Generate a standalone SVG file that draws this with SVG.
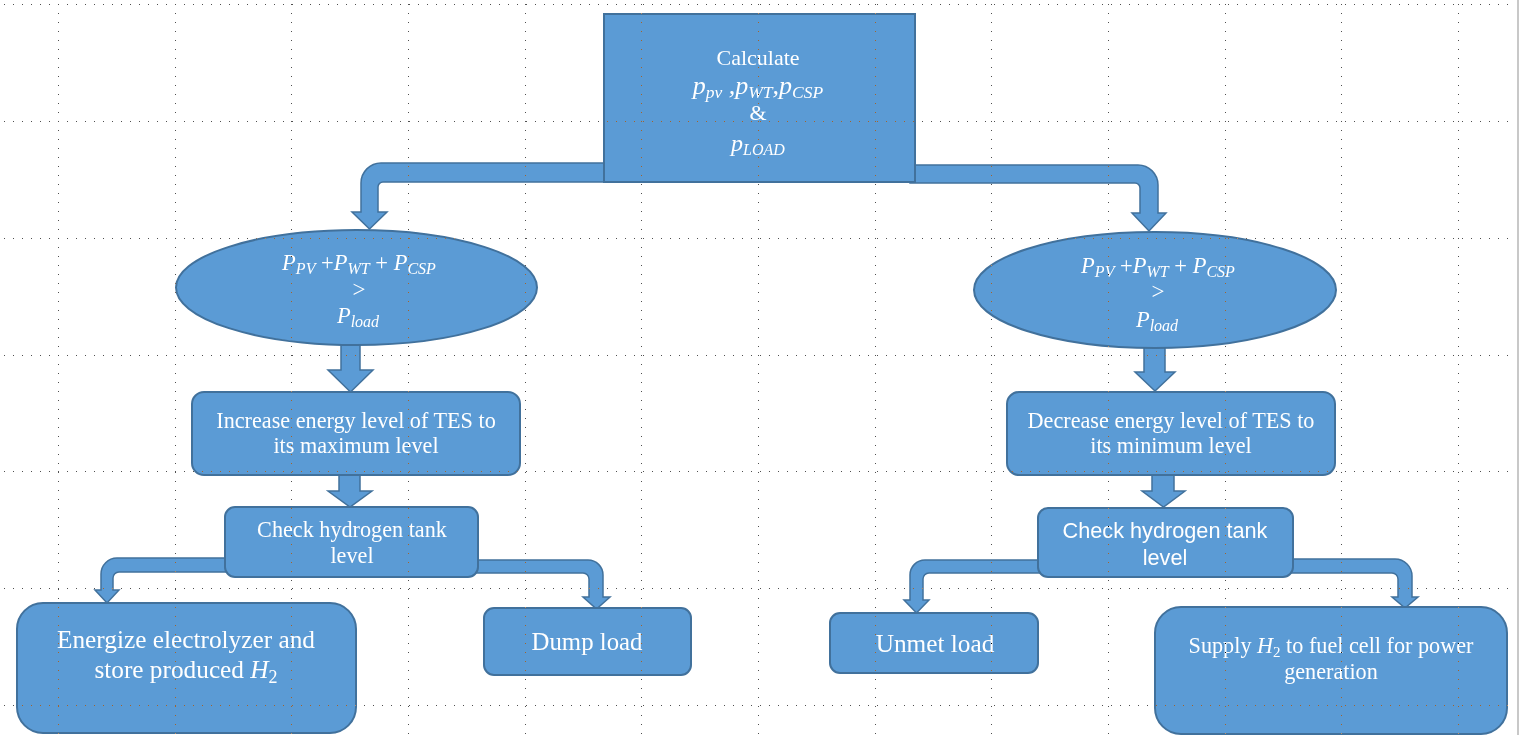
<svg xmlns="http://www.w3.org/2000/svg" xmlns:xlink="http://www.w3.org/1999/xlink" width="1525" height="735" viewBox="0 0 1525 735">
<style>
.shape{fill:#5B9BD5;stroke:#41719C;stroke-width:2}
.arrow{fill:#5B9BD5;stroke:#41719C;stroke-width:1.5;stroke-linejoin:miter}
.t{fill:#fff;font-family:"Liberation Serif","Times New Roman",serif;text-anchor:middle}
.ts{fill:#fff;font-family:"Liberation Sans",Arial,sans-serif;text-anchor:middle}
.m{fill:#fff;font-family:"Liberation Serif","Times New Roman",serif;font-style:italic;text-anchor:middle}
.up{font-style:normal}
.gridlo{stroke:#b0b0b0;stroke-width:1;stroke-dasharray:1 8;fill:none}
.gridhi{stroke:#fff;stroke-width:1;stroke-dasharray:1 8;fill:none;mix-blend-mode:difference}
</style>
<defs>
<path id="gridpath" d="M4,4.5H1516M4,121.5H1516M4,238.5H1516M4,355.5H1516M4,471.5H1516M4,588.5H1516M4,705.5H1516M58.5,4V735M175.5,4V735M291.5,4V735M408.5,4V735M525.5,4V735M641.5,4V735M758.5,4V735M875.5,4V735M991.5,4V735M1108.5,4V735M1225.5,4V735M1341.5,4V735M1458.5,4V735"/>
</defs>
<rect x="0" y="0" width="1525" height="735" fill="#fff"/>
<g id="grid-under"><use xlink:href="#gridpath" class="gridlo"/></g>
<line x1="1518" y1="0" x2="1518" y2="735" stroke="#c8c8c8" stroke-width="2"/>

<g id="connectors">
<path class="arrow" d="M610,163H381A20,20 0 0 0 361,183V212H352L369.5,229L387,212H378V187A5,5 0 0 1 383,182H610Z"/>
<path class="arrow" d="M910,165H1138A20,20 0 0 1 1158,185V213H1166L1149,231L1132,213H1140V188A5,5 0 0 0 1135,183H910Z"/>
<path class="arrow" d="M341,338V370H328L350.5,392L373,370H360V338Z"/>
<path class="arrow" d="M339,470V491H328L350,507L372,491H360V470Z"/>
<path class="arrow" d="M1144,340V372H1135L1155,391L1175,372H1165V340Z"/>
<path class="arrow" d="M1152,470V491H1142L1163.5,507L1185,491H1174V470Z"/>
<path class="arrow" d="M232,558H117A16,16 0 0 0 101,574V590H95L107,603L119,590H113V578A6,6 0 0 1 119,572H232Z"/>
<path class="arrow" d="M470,560H588A15,15 0 0 1 603,575V597H610L596.5,609L583,597H589V579A6,6 0 0 0 583,573H470Z"/>
<path class="arrow" d="M1045,560H925A15,15 0 0 0 910,575V600H904L916.5,613L929,600H923V579A6,6 0 0 1 929,573H1045Z"/>
<path class="arrow" d="M1288,559H1395A17,17 0 0 1 1412,576V597H1418L1405,608L1392,597H1398V579A6,6 0 0 0 1392,573H1288Z"/>
</g>

<g id="calc">
<rect class="shape" x="604" y="14" width="311" height="168"/>
<text class="t" x="758" y="65" font-size="22">Calculate</text>
<text class="m" x="758" y="94" font-size="26">p<tspan font-size="17.5" dy="4">pv</tspan><tspan dy="-4"> ,p</tspan><tspan font-size="17.5" dy="4">WT</tspan><tspan dy="-4">,p</tspan><tspan font-size="17.5" dy="4">CSP</tspan></text>
<text class="t" x="758" y="120" font-size="22">&amp;</text>
<text class="m" x="758" y="151" font-size="24">p<tspan font-size="16" dy="4">LOAD</tspan></text>
</g>

<g id="cond-left">
<ellipse class="shape" cx="356.5" cy="287.5" rx="180.5" ry="57.5"/>
<text class="m" x="359" y="270" font-size="22.5">P<tspan font-size="16" dy="4">PV</tspan><tspan dy="-4"> <tspan class="up">+</tspan>P</tspan><tspan font-size="16" dy="4">WT</tspan><tspan dy="-4"> <tspan class="up">+</tspan> P</tspan><tspan font-size="16" dy="4">CSP</tspan></text>
<text class="t" x="359" y="297" font-size="23">&gt;</text>
<text class="m" x="358" y="323" font-size="22.5">P<tspan font-size="16" dy="4">load</tspan></text>
</g>

<g id="cond-right">
<ellipse class="shape" cx="1155" cy="290" rx="181" ry="58"/>
<text class="m" x="1158" y="273" font-size="22.5">P<tspan font-size="16" dy="4">PV</tspan><tspan dy="-4"> <tspan class="up">+</tspan>P</tspan><tspan font-size="16" dy="4">WT</tspan><tspan dy="-4"> <tspan class="up">+</tspan> P</tspan><tspan font-size="16" dy="4">CSP</tspan></text>
<text class="t" x="1158" y="299" font-size="23">&gt;</text>
<text class="m" x="1157" y="327" font-size="22.5">P<tspan font-size="16" dy="4">load</tspan></text>
</g>

<g id="increase">
<rect class="shape" x="192" y="392" width="328" height="83" rx="12"/>
<text class="t" x="356" y="428" font-size="22.2">Increase energy level of TES to</text>
<text class="t" x="356" y="453" font-size="22.2">its maximum level</text>
</g>

<g id="decrease">
<rect class="shape" x="1007" y="392" width="328" height="83" rx="12"/>
<text class="t" x="1171" y="428" font-size="22.2">Decrease energy level of TES to</text>
<text class="t" x="1171" y="453" font-size="22.2">its minimum level</text>
</g>

<g id="check-left">
<rect class="shape" x="225" y="507" width="253" height="70" rx="10"/>
<text class="t" x="352" y="537" font-size="22.2">Check hydrogen tank</text>
<text class="t" x="352" y="563" font-size="22.2">level</text>
</g>

<g id="check-right">
<rect class="shape" x="1038" y="508" width="255" height="69" rx="10"/>
<text class="ts" x="1165" y="538" font-size="21.7">Check hydrogen tank</text>
<text class="ts" x="1165" y="565" font-size="21.7">level</text>
</g>

<g id="energize">
<rect class="shape" x="17" y="603" width="339" height="130" rx="26"/>
<text class="t" x="186" y="648" font-size="25.3">Energize electrolyzer and</text>
<text class="t" x="186" y="678" font-size="25.3">store produced  <tspan font-style="italic">H</tspan><tspan font-size="18" dy="5">2</tspan></text>
</g>

<g id="dump">
<rect class="shape" x="484" y="608" width="207" height="67" rx="10"/>
<text class="t" x="587" y="650" font-size="24.8">Dump load</text>
</g>

<g id="unmet">
<rect class="shape" x="830" y="613" width="208" height="60" rx="10"/>
<text class="t" x="935" y="652" font-size="25.3">Unmet load</text>
</g>

<g id="supply">
<rect class="shape" x="1155" y="607" width="352" height="127" rx="26"/>
<text class="t" x="1331" y="653" font-size="22.2">Supply <tspan font-style="italic">H</tspan><tspan font-size="15" dy="4">2</tspan><tspan dy="-4"> to fuel cell for power</tspan></text>
<text class="t" x="1331" y="679" font-size="22.2">generation</text>
</g>

<g id="grid-over"><use xlink:href="#gridpath" class="gridhi"/></g>
</svg>
